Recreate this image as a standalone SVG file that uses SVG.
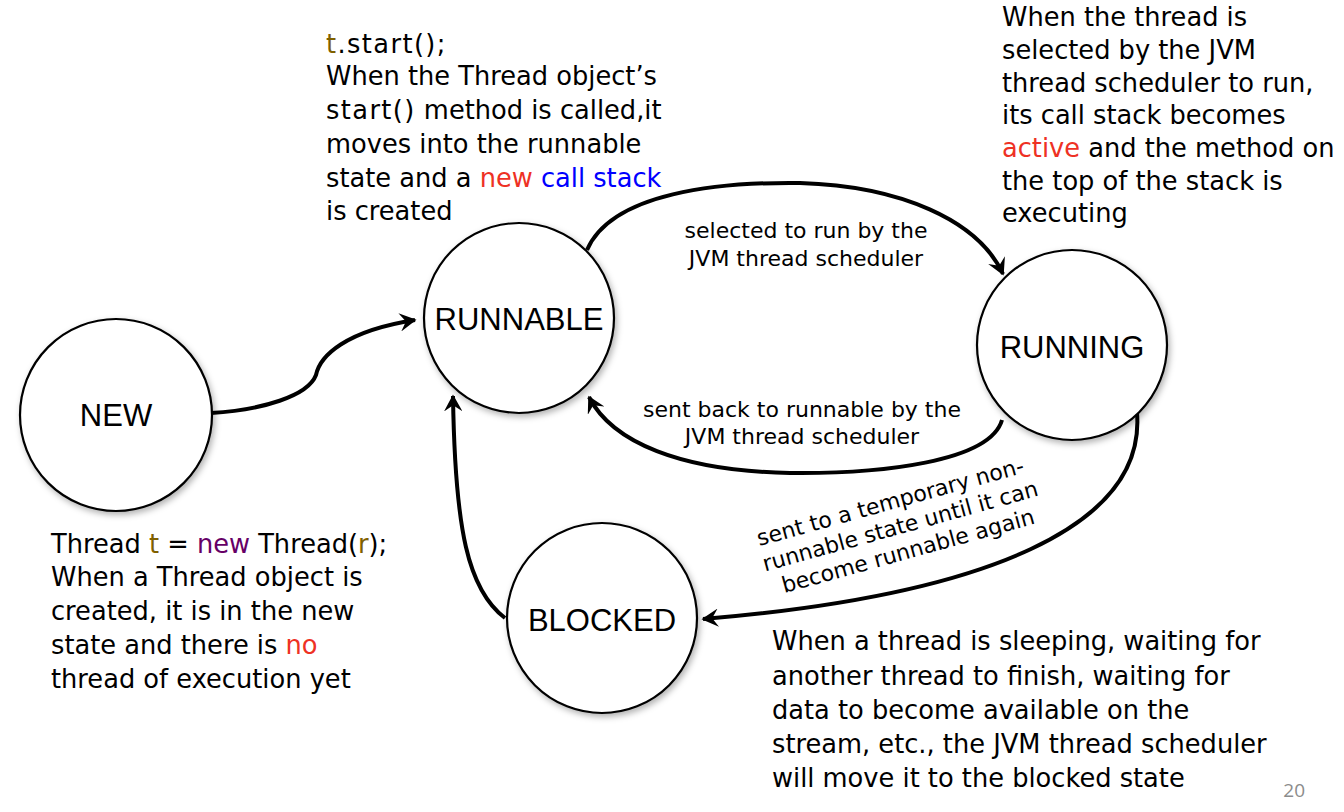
<svg xmlns="http://www.w3.org/2000/svg" width="1344" height="812" viewBox="0 0 1344 812">
<style>
.txt{font-family:"DejaVu Sans","Liberation Sans",sans-serif;font-size:25.7px;fill:#000}
.code{letter-spacing:1.4px}
.lbl{font-family:"DejaVu Sans","Liberation Sans",sans-serif;font-size:22px;fill:#000;text-anchor:middle}
.node{fill:#fff;stroke:#000;stroke-width:2.2}
.ntxt{font-family:"Liberation Sans",Arial,sans-serif;font-size:31px;fill:#000;text-anchor:middle}
.edge{fill:none;stroke:#000;stroke-width:4;marker-end:url(#arr)}
.red{fill:#EE3124}
.blue{fill:#0000FF}
.brown{fill:#7F6000}
.purple{fill:#660066}
</style>
<defs>
<marker id="arr" viewBox="0 0 12 12" refX="10" refY="6" markerWidth="4.6" markerHeight="4.6" orient="auto" markerUnits="strokeWidth">
<path d="M0,0 L11,6 L0,12 L4,6 Z" fill="#000"/>
</marker>
<filter id="sh" x="-20%" y="-20%" width="140%" height="140%">
<feDropShadow dx="2" dy="3" stdDeviation="3" flood-color="#000" flood-opacity="0.3"/>
</filter>
</defs>
<rect width="1344" height="812" fill="#fff"/>

<g id="connectors">
<path class="edge" d="M211,413 C262,410 308,396 316,375 C320,356 345,331 415,320"/>
<path class="edge" d="M587,250 C612,192 720,182 800,183 C900,186 978,220 1003,274"/>
<path class="edge" d="M1002,420 C990,462 880,474 790,473 C680,471 612,442 589,397"/>
<path class="edge" d="M1137,413 C1146,525 990,595 703,619"/>
<path class="edge" d="M505,618 C468,590 455,530 453,396"/>
</g>

<g id="new">
<circle class="node" cx="116" cy="415" r="96" filter="url(#sh)"/>
<text class="ntxt" x="116" y="426">NEW</text>
</g>
<g id="runnable">
<circle class="node" cx="519" cy="318" r="95" filter="url(#sh)"/>
<text class="ntxt" x="519" y="330">RUNNABLE</text>
</g>
<g id="running">
<circle class="node" cx="1072" cy="345" r="95" filter="url(#sh)"/>
<text class="ntxt" x="1072" y="358">RUNNING</text>
</g>
<g id="blocked">
<circle class="node" cx="602" cy="618" r="95" filter="url(#sh)"/>
<text class="ntxt" x="602" y="631">BLOCKED</text>
</g>

<g id="edge-labels">
<text class="lbl" x="806" y="238">selected to run by the</text>
<text class="lbl" x="806" y="266">JVM thread scheduler</text>
<text class="lbl" x="802" y="417">sent back to runnable by the</text>
<text class="lbl" x="802" y="444">JVM thread scheduler</text>
<g transform="rotate(-15.5 900 533)">
<text class="lbl" x="899" y="508">sent to a temporary non-</text>
<text class="lbl" x="902" y="534">runnable state until it can</text>
<text class="lbl" x="903" y="560">become runnable again</text>
</g>
</g>

<g id="note-runnable">
<text class="txt code" x="326" y="53"><tspan class="brown">t</tspan>.start();</text>
<text class="txt" x="326" y="85">When the Thread object’s</text>
<text class="txt" x="326" y="119"><tspan class="code">start()</tspan> method is called,it</text>
<text class="txt" x="326" y="153">moves into the runnable</text>
<text class="txt" x="326" y="187">state and a <tspan class="red">new</tspan> <tspan class="blue">call stack</tspan></text>
<text class="txt" x="326" y="220">is created</text>
</g>

<g id="note-running">
<text class="txt" x="1002" y="26">When the thread is</text>
<text class="txt" x="1002" y="59">selected by the JVM</text>
<text class="txt" x="1002" y="92">thread scheduler to run,</text>
<text class="txt" x="1002" y="124">its call stack becomes</text>
<text class="txt" x="1002" y="157"><tspan class="red">active</tspan> and the method on</text>
<text class="txt" x="1002" y="190">the top of the stack is</text>
<text class="txt" x="1002" y="222">executing</text>
</g>

<g id="note-new">
<text class="txt" x="51" y="553">Thread <tspan class="brown">t</tspan> = <tspan class="purple">new</tspan> Thread(<tspan class="brown">r</tspan>);</text>
<text class="txt" x="51" y="586">When a Thread object is</text>
<text class="txt" x="51" y="620">created, it is in the new</text>
<text class="txt" x="51" y="654">state and there is <tspan class="red">no</tspan></text>
<text class="txt" x="51" y="688">thread of execution yet</text>
</g>

<g id="note-blocked">
<text class="txt" x="772" y="650">When a thread is sleeping, waiting for</text>
<text class="txt" x="772" y="685">another thread to finish, waiting for</text>
<text class="txt" x="772" y="719">data to become available on the</text>
<text class="txt" x="772" y="753">stream, etc., the JVM thread scheduler</text>
<text class="txt" x="772" y="787">will move it to the blocked state</text>
</g>

<text x="1305" y="797" font-family="'Open Sans','Liberation Sans',sans-serif" font-size="19" fill="#8c8c8c" text-anchor="end">20</text>
</svg>
